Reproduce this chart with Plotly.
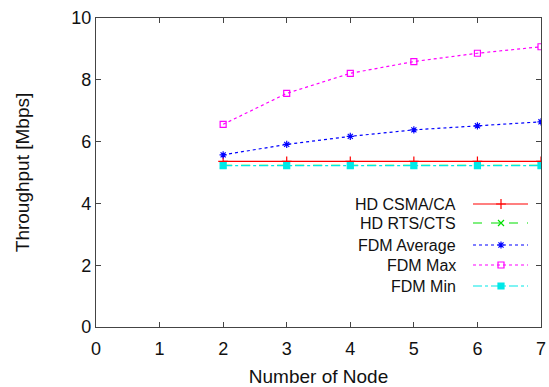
import plotly.graph_objects as go

nodes = [2, 3, 4, 5, 6, 7]
hd_csma = [5.36, 5.36, 5.36, 5.36, 5.36, 5.36]
hd_rts = [5.23, 5.23, 5.23, 5.23, 5.23, 5.23]
fdm_avg = [5.57, 5.91, 6.17, 6.38, 6.51, 6.64]
fdm_max = [6.56, 7.56, 8.21, 8.59, 8.86, 9.07]
fdm_min = [5.22, 5.22, 5.22, 5.22, 5.22, 5.22]

names = ["HD CSMA/CA", "HD RTS/CTS", "FDM Average", "FDM Max", "FDM Min"]
values = [hd_csma, hd_rts, fdm_avg, fdm_max, fdm_min]
colors = ["#ff0000", "#00e000", "#0000ff", "#ff00ff", "#00e8e8"]
dashes = ["solid", "dash", "dot", "dot", "dashdot"]
symbols = ["cross-thin-open", "x-thin-open", "asterisk-open", "square-open", "square"]
msizes = [7, 6, 6, 6, 6]

fig = go.Figure()
for n, v, c, d, s, m in zip(names, values, colors, dashes, symbols, msizes):
    fig.add_trace(go.Scatter(
        x=nodes, y=v, mode="lines+markers", name=n, showlegend=False,
        line=dict(color=c, width=1.2, dash=d),
        marker=dict(symbol=s, size=m, color=c, line=dict(color=c, width=1.2)),
    ))

# gnuplot-style key: right-aligned text, sample to the right
L, R, T, B = 96, 541, 18, 327
rows = [204, 223, 245, 265, 286]
for n, c, d, s, m, yy in zip(names, colors, dashes, symbols, msizes, rows):
    fig.add_trace(go.Scatter(
        x=[473, 528], y=[yy, yy], xaxis="x2", yaxis="y2", mode="lines",
        line=dict(color=c, width=1.2, dash=d), showlegend=False, hoverinfo="skip"))
    fig.add_trace(go.Scatter(
        x=[501], y=[yy], xaxis="x2", yaxis="y2", mode="markers",
        marker=dict(symbol=s, size=m, color=c, line=dict(color=c, width=1.2)),
        showlegend=False, hoverinfo="skip"))
    fig.add_annotation(x=458, y=yy, xref="x2", yref="y2", text=n, showarrow=False,
                       xanchor="right", yanchor="middle",
                       font=dict(size=16, color="#111111", family="Liberation Sans, Arial"))

axis_common = dict(showgrid=False, zeroline=False, showline=True, linecolor="#444444",
                   linewidth=1.2, mirror="ticks", ticks="inside", ticklen=5,
                   tickcolor="#444444", tickfont=dict(size=18, color="#111111"),
                   automargin=False)

fig.update_layout(
    width=549, height=387,
    margin=dict(l=L, r=549 - R, t=T, b=387 - B),
    plot_bgcolor="white", paper_bgcolor="white",
    font=dict(family="Liberation Sans, Arial", size=16, color="#111111"),
    xaxis=dict(range=[0, 7], tickvals=[0, 1, 2, 3, 4, 5, 6, 7], ticklabelstandoff=5,
               title=dict(text="Number of Node", font=dict(size=19), standoff=13),
               **axis_common),
    yaxis=dict(range=[0, 10], tickvals=[0, 2, 4, 6, 8, 10],
               title=dict(text="Throughput [Mbps]", font=dict(size=19), standoff=36),
               **axis_common),
    xaxis2=dict(range=[L, R], overlaying="x", visible=False, fixedrange=True),
    yaxis2=dict(range=[B, T], overlaying="y", visible=False, fixedrange=True),
    showlegend=False,
)

fig.write_html("out.html")
